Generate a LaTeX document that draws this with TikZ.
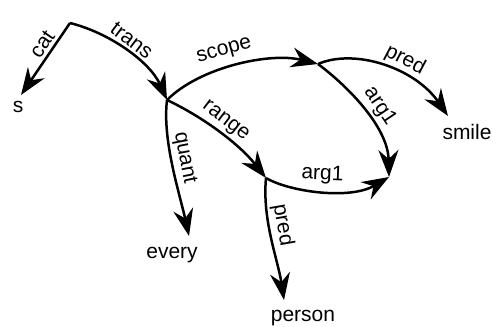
\documentclass[tikz,border=0pt]{standalone}
\usepackage{fontspec}
\setmainfont{Liberation Sans}
\usetikzlibrary{arrows.meta}
\begin{document}
\begin{tikzpicture}[x=1pt,y=-1pt,
  edge/.style={line width=2.5pt, -{Stealth[length=27pt,width=20pt,inset=9pt]}},
  lab/.style={font=\fontsize{21}{24}\selectfont, inner sep=3pt, sloped, above},
  word/.style={font=\fontsize{21}{24}\selectfont, inner sep=0pt, anchor=base}]
\useasboundingbox[fill=white] (0,0) rectangle (499,327);

% graph nodes
\coordinate (R) at (70,23);
\coordinate (A) at (167,100);
\coordinate (B) at (318,64);
\coordinate (C) at (389,177);
\coordinate (D) at (266,178);
% arrow ends above the leaf words
\coordinate (tS) at (21,95);
\coordinate (tE) at (448,116);
\coordinate (tF) at (189,236);
\coordinate (tG) at (284,300);

% leaf words
\node[word] (s) at (18,112) {s};
\node[word] (smile) at (467,139) {smile};
\node[word] (every) at (172,258) {every};
\node[word] (person) at (303,321) {person};

% edges
\draw[edge] (R) -- node[lab, pos=0.38] {cat} (tS);
\draw[edge] (R) .. controls (110,33) and (150,62) .. node[lab, pos=0.48] {trans} (A);
\draw[edge] (A) .. controls (200,67) and (270,52) .. node[lab, pos=0.45, above=4pt] {scope} (B);
\draw[edge] (B) .. controls (355,48) and (415,68) .. node[lab, pos=0.6] {pred} (tE);
\draw[edge] (B) .. controls (350,88) and (388,128) .. node[lab, pos=0.53, above=1pt] {arg1} (C);
\draw[edge] (A) .. controls (205,118) and (240,145) .. node[lab, pos=0.47] {range} (D);
\draw[edge] (A) .. controls (162,140) and (180,195) .. node[lab, pos=0.45] {quant} (tF);
\draw[edge] (D) .. controls (290,192) and (350,200) .. node[lab, pos=0.5, above=3pt] {arg1} (C);
\draw[edge] (D) .. controls (262,220) and (278,260) .. node[lab, pos=0.4] {pred} (tG);
\end{tikzpicture}
\end{document}
